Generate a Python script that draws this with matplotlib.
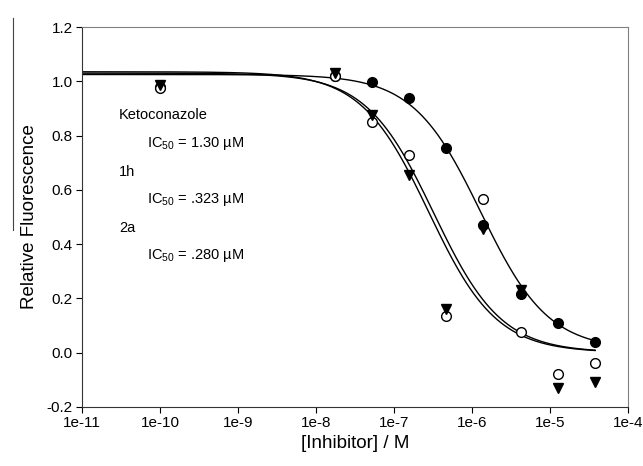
import numpy as np
import matplotlib
matplotlib.use("Agg")
import matplotlib.pyplot as plt
from matplotlib.lines import Line2D

plt.rcParams['font.family'] = ['Liberation Sans', 'DejaVu Sans']
plt.rcParams['mathtext.fontset'] = 'custom'
plt.rcParams['mathtext.rm'] = 'Liberation Sans'

# inhibitor concentrations (M)
conc = [1e-10, 1.74e-8, 5.2e-8, 1.56e-7, 4.7e-7, 1.4e-6, 4.2e-6, 1.27e-5, 3.8e-5]

# relative fluorescence
keto = [0.98, 1.02, 0.997, 0.94, 0.755, 0.47, 0.215, 0.11, 0.04]
h1 = [0.975, 1.02, 0.85, 0.73, 0.135, 0.565, 0.075, -0.08, -0.04]
a2 = [0.985, 1.03, 0.875, 0.655, 0.16, 0.455, 0.23, -0.13, -0.11]

# fitted logistic curves: top, bottom, IC50, hill
fit_keto = [1.025, 0.01, 1.30e-6, 1.0]
fit_h1 = [1.03, 0.0, 3.23e-7, 1.0]
fit_a2 = [1.035, 0.0, 2.80e-7, 1.0]

labels = ["Ketoconazole", "1h", "2a"]
ic50_text = ["1.30", ".323", ".280"]


def logistic(x, p):
    top, bottom, ic50, hill = p
    return bottom + (top - bottom) / (1 + (x / ic50) ** hill)


fig = plt.figure(figsize=(6.43, 4.66), dpi=100)
ax = fig.add_axes([0.1275, 0.127, 0.849, 0.815])

xs = np.logspace(-11, np.log10(3.8e-5), 400)
for p in (fit_keto, fit_h1, fit_a2):
    ax.plot(xs, logistic(xs, p), color="black", lw=1.0)

ax.plot(conc, keto, "o", color="black", ms=7, ls="none")
ax.plot(conc, h1, "o", mfc="white", mec="black", mew=1.0, ms=7, ls="none")
ax.plot(conc, a2, "v", color="black", ms=7, ls="none")

ax.set_xscale("log")
ax.set_xlim(1e-11, 1e-4)
ax.set_ylim(-0.2, 1.2)
ax.set_xticks([10.0 ** k for k in range(-11, -3)])
ax.set_xticklabels(["1e-%d" % k for k in range(11, 3, -1)])
ax.minorticks_off()
ax.set_yticks(np.arange(-0.2, 1.21, 0.2))
ax.set_yticklabels(["%.1f" % v for v in np.arange(-0.2, 1.21, 0.2)])
ax.tick_params(direction="out", length=4, labelsize=11, width=0.8, pad=2.5)

for s in ("top", "right"):
    ax.spines[s].set_color("#808080")
for s in ("left", "bottom"):
    ax.spines[s].set_color("#333333")

ax.set_xlabel("[Inhibitor] / M", fontsize=13.5, labelpad=4)
ax.set_ylabel("Relative Fluorescence", fontsize=13.5, labelpad=6)

# annotations (pixel rows from reference)
rows = [115, 143, 172, 200, 228, 255]
for i in range(3):
    y_name = 1 - rows[2 * i] / 466
    y_ic = 1 - rows[2 * i + 1] / 466
    fig.text(119 / 643, y_name, labels[i], fontsize=10.5, va="center")
    fig.text(147 / 643, y_ic, "IC$_{50}$ = %s \u00b5M" % ic50_text[i],
             fontsize=10.5, va="center")

# stray vertical line near y label in the reference
fig.add_artist(Line2D([13 / 643, 13 / 643], [1 - 18 / 466, 1 - 230 / 466],
                      color="#444444", lw=0.8))

fig.savefig("out.png", dpi=100)
